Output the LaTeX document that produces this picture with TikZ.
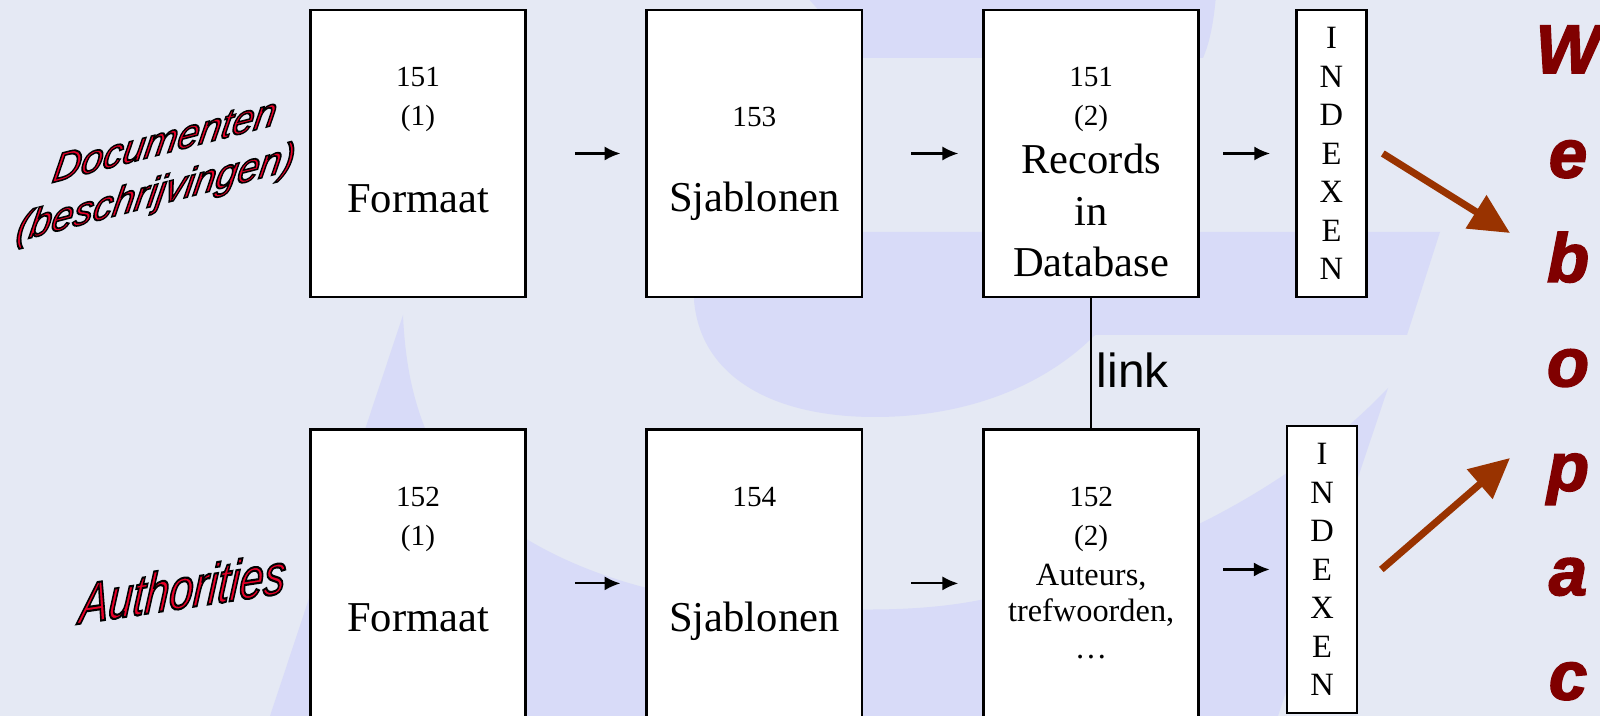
\documentclass[tikz,border=0pt]{standalone}
\usepackage{fontspec}
\setmainfont{Liberation Serif}
\setsansfont{Liberation Sans}
\newfontfamily\webfont{Liberation Sans}[BoldItalicFeatures={FakeBold=2.5}]
\usetikzlibrary{arrows.meta,
positioning}

\definecolor{achtergrond}{RGB}{229,233,244}
\definecolor{lavendel}{RGB}{216,219,248}
\definecolor{docrood}{RGB}{232,0,40}
\definecolor{webrood}{RGB}{128,0,0}
\definecolor{pijlbruin}{RGB}{153,51,0}

% rode tekst met zwarte rand (tekst wordt gevuld en omlijnd)
\newcommand{\omlijnd}[1]{\special{pdf:literal direct 2 Tr 0.45 w 0 0 0 RG}#1\special{pdf:literal direct 0 Tr}}

\begin{document}
\begin{tikzpicture} [x=0.01cm, y=-0.01cm,
        blok/.style={draw, fill=white, line width=0.75pt, inner sep=0pt,
                minimum width=2.15cm, minimum height=2.87cm},
        indexblok/.style={draw, fill=white, line width=0.75pt, inner sep=0pt,
                minimum width=0.70cm, minimum height=2.87cm, align=center,
                font=\fontsize{9.25}{10.95}\selectfont},
        groot/.style={inner sep=0pt, anchor=base, font=\fontsize{12.1}{14.6}\selectfont},
        nummer/.style={inner sep=0pt, anchor=base, font=\fontsize{8.3}{10}\selectfont},
        klein/.style={inner sep=0pt, anchor=base, font=\fontsize{9.2}{11}\selectfont},
        pijl/.style={-{Latex[length=4.5pt,width=4pt]}, line width=0.6pt},
        webpijl/.style={-{Triangle[length=11.4pt,width=10.7pt]}, line width=2pt, draw=pijlbruin},
        webletter/.style={anchor=base, inner sep=0pt, text=webrood,
                font=\webfont\bfseries\itshape\fontsize{19.5}{24}\selectfont}]

    \useasboundingbox (0,0) rectangle (1600,716);
    \clip (0,0) rectangle (1600,716);

    % achtergrond met de grote e
    \fill[achtergrond] (0,0) rectangle (1600,716);
    \fill[lavendel] (694,232) -- (1440,232) -- (1407,335) -- (1095,335)
        .. controls (1040,390) and (960,417) .. (875,417)
        .. controls (770,417) and (700,375) .. (694,300) -- cycle;
    \fill[lavendel] (805,-5) -- (1216,-5) .. controls (1214,20) and (1210,42) .. (1203,58)
        -- (862,58) -- cycle;
    \fill[lavendel] (403,315) -- (270,716) -- (1278,716) -- (1388,388)
        .. controls (1310,470) and (1180,555) .. (980,600)
        .. controls (880,620) and (740,605) .. (643,587)
        .. controls (560,565) and (470,520) .. (430,440)
        .. controls (412,400) and (405,360) .. (403,315) -- cycle;

    % bovenste rij: documenten
    \node [blok] (fmt1) at (418,153.5) {};
    \node [blok, right = 1.185cm of fmt1] (sjab1) {};
    \node [blok, right = 1.19cm of sjab1] (rec1) {};
    \node [indexblok, right = 0.95cm of rec1] (idx1) {I\\N\\D\\E\\X\\E\\N};

    % onderste rij: authorities
    \node [blok, minimum height = 3.07cm, below = 1.30cm of fmt1] (fmt2) {};
    \node [blok, minimum height = 3.07cm, below = 1.30cm of sjab1] (sjab2) {};
    \node [blok, minimum height = 3.07cm, below = 1.30cm of rec1] (rec2) {};
    \node [indexblok] (idx2) at (1322,569.5) {I\\N\\D\\E\\X\\E\\N};

    % teksten in de vakken
    \node [nummer] (t151a) at ([yshift=-0.78cm]fmt1.north) {151};
    \node [nummer] (t1a) at ([yshift=-1.17cm]fmt1.north) {(1)};
    \node [groot] (tfmt1) at ([yshift=-2.04cm]fmt1.north) {Formaat};
    \node [nummer] (t153) at ([yshift=-1.18cm]sjab1.north) {153};
    \node [groot] (tsjab1) at ([yshift=-2.03cm]sjab1.north) {Sjablonen};
    \node [nummer] (t151b) at ([yshift=-0.78cm]rec1.north) {151};
    \node [nummer] (t2a) at ([yshift=-1.17cm]rec1.north) {(2)};
    \node [groot] (trec) at ([yshift=-1.65cm]rec1.north) {Records};
    \node [groot] (tin) at ([yshift=-2.17cm]rec1.north) {in};
    \node [groot] (tdb) at ([yshift=-2.68cm]rec1.north) {Database};

    \node [nummer] (t152a) at ([yshift=-0.78cm]fmt2.north) {152};
    \node [nummer] (t1b) at ([yshift=-1.17cm]fmt2.north) {(1)};
    \node [groot] (tfmt2) at ([yshift=-2.03cm]fmt2.north) {Formaat};
    \node [nummer] (t154) at ([yshift=-0.78cm]sjab2.north) {154};
    \node [groot] (tsjab2) at ([yshift=-2.03cm]sjab2.north) {Sjablonen};
    \node [nummer] (t152b) at ([yshift=-0.78cm]rec2.north) {152};
    \node [nummer] (t2b) at ([yshift=-1.17cm]rec2.north) {(2)};
    \node [klein] (taut) at ([yshift=-1.57cm]rec2.north) {Auteurs,};
    \node [klein] (ttref) at ([yshift=-1.93cm]rec2.north) {trefwoorden,};
    \node [klein] (tdots) at ([yshift=-2.30cm]rec2.north) {…};

    % pijlen tussen de vakken
    \draw [pijl, shorten <=0.48cm, shorten >=0.25cm] (fmt1) -- (sjab1);
    \draw [pijl, shorten <=0.48cm, shorten >=0.24cm] (sjab1) -- (rec1);
    \draw [pijl, shorten <=0.23cm, shorten >=0.25cm] (rec1) -- (idx1);
    \draw [pijl, shorten <=0.48cm, shorten >=0.25cm] (fmt2) -- (sjab2);
    \draw [pijl, shorten <=0.48cm, shorten >=0.24cm] (sjab2) -- (rec2);
    \draw [pijl, shorten <=0.23cm, shorten >=0.16cm] (rec2.east |- idx2) -- (idx2.west);

    % link tussen records en authorities
    \draw [line width=0.75pt] (rec1) -- (rec2)
        node [midway, anchor=west, xshift=0.045cm, yshift=-0.065cm, inner sep=0pt,
            font=\sffamily\fontsize{13.6}{16}\selectfont] (linklbl) {link};

    % labels links
    \node [
        yslant = 0.26,
        xslant = 0.18,
        align = center,
        text = docrood,
        inner sep = 0pt,
        font = \sffamily\itshape\fontsize{11.2}{14.1}\selectfont
    ] (docs) at (160,170) {\omlijnd{Documenten}\\\omlijnd{(beschrijvingen)}};

    \node [
        yslant = 0.15,
        xslant = 0.08,
        yscale = 1.3,
        text = docrood,
        inner sep = 0pt,
        font = \sffamily\itshape\fontsize{12.4}{15}\selectfont
    ] (auth) at (183,588) {\omlijnd{Authorities}};

    % webopac
    \foreach \lt [count=\i from 0] in {W,e,b,o,p,a,c}
        \node [webletter] (web\i) at (1568, {73+104.4*\i}) {\lt};

    \coordinate (webin1) at (1510,233);
    \coordinate (webin2) at (1510,458);
    \draw [webpijl] ([xshift=0.15cm]idx1.east) -- (webin1);
    \draw [webpijl] ([xshift=0.23cm]idx2.east) -- (webin2);

\end{tikzpicture}
\end{document}
